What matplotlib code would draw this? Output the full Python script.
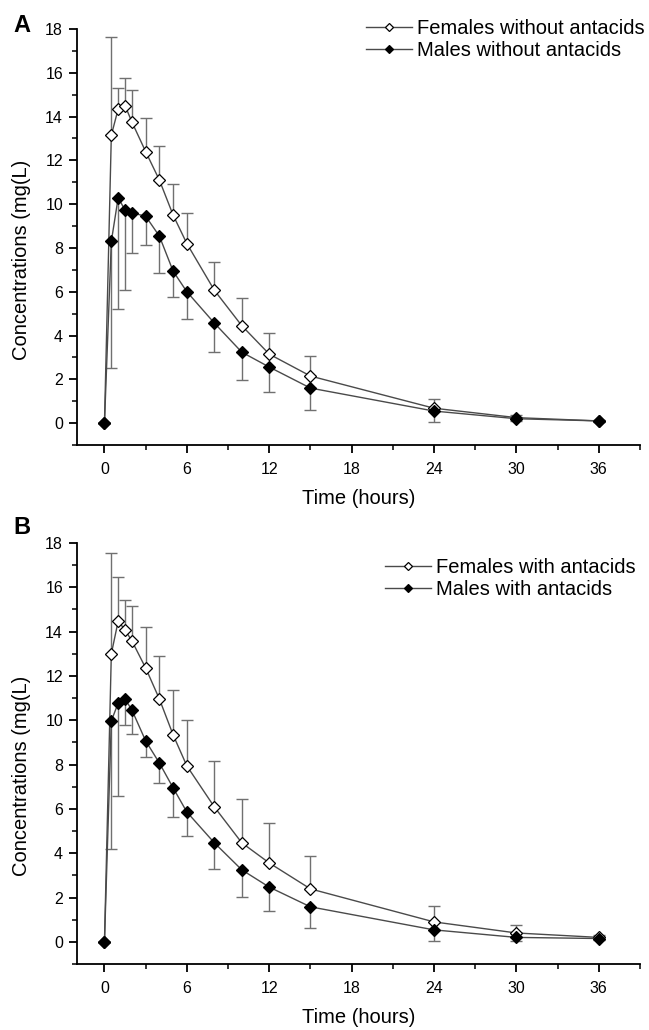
import numpy as np
import matplotlib
matplotlib.use('Agg')
from matplotlib import pyplot as plt
from matplotlib.ticker import MultipleLocator

plt.rcParams['font.family'] = ['Liberation Sans', 'DejaVu Sans']

# time points (hours)
t = [0, 0.5, 1, 1.5, 2, 3, 4, 5, 6, 8, 10, 12, 15, 24, 30, 36]

# panel A - without antacids
fem_a = [0, 13.15, 14.35, 14.5, 13.75, 12.4, 11.1, 9.5, 8.2, 6.07, 4.45, 3.15, 2.15, 0.68, 0.25, 0.1]
fem_a_err = [0, 4.5, 0.95, 1.25, 1.45, 1.55, 1.55, 1.4, 1.4, 1.3, 1.25, 0.95, 0.9, 0.4, 0.1, 0.05]
male_a = [0, 8.3, 10.3, 9.72, 9.6, 9.45, 8.54, 6.94, 6.0, 4.57, 3.24, 2.56, 1.6, 0.55, 0.2, 0.1]
male_a_err = [0, 5.8, 5.1, 3.65, 1.85, 1.3, 1.7, 1.2, 1.25, 1.33, 1.25, 1.15, 1.0, 0.5, 0.1, 0.05]

# panel B - with antacids
fem_b = [0, 13.0, 14.48, 14.07, 13.58, 12.36, 10.96, 9.34, 7.94, 6.09, 4.47, 3.56, 2.39, 0.9, 0.4, 0.2]
fem_b_err = [0, 4.55, 1.99, 1.36, 1.58, 1.84, 1.94, 2.03, 2.06, 2.07, 1.98, 1.81, 1.49, 0.7, 0.37, 0.12]
male_b = [0, 9.97, 10.78, 10.96, 10.46, 9.07, 8.07, 6.95, 5.86, 4.47, 3.25, 2.47, 1.58, 0.54, 0.2, 0.15]
male_b_err = [0, 5.77, 4.22, 1.16, 1.09, 0.71, 0.91, 1.31, 1.08, 1.17, 1.22, 1.07, 0.95, 0.49, 0.15, 0.05]

labels_a = ['Females without antacids', 'Males without antacids']
labels_b = ['Females with antacids', 'Males with antacids']

fig = plt.figure(figsize=(6.49, 10.30), dpi=100)
W, H = 649.0, 1030.0


def panel(rect, fem, fem_err, male, male_err, labels, letter, letter_y, leg_xy):
    l, tp, r, b = rect
    ax = fig.add_axes([l / W, 1 - b / H, (r - l) / W, (b - tp) / H])
    zeros = np.zeros(len(t))
    # error bars: females upward only, males downward only
    ax.errorbar(t, fem, yerr=[zeros, fem_err], fmt='none', ecolor='#707070',
                elinewidth=1.0, capsize=4, capthick=1.0, zorder=2)
    ax.errorbar(t, male, yerr=[male_err, zeros], fmt='none', ecolor='#707070',
                elinewidth=1.0, capsize=4, capthick=1.0, zorder=2)
    ax.plot(t, fem, color='#4a4a4a', lw=1.0, marker='D', ms=6.5, mfc='white',
            mec='black', mew=0.9, label=labels[0], zorder=3)
    ax.plot(t, male, color='#4a4a4a', lw=1.0, marker='D', ms=6.5, mfc='black',
            mec='black', mew=0.9, label=labels[1], zorder=4)
    ax.set_xlim(-2, 39)
    ax.set_ylim(-1, 18)
    ax.xaxis.set_major_locator(MultipleLocator(6))
    ax.xaxis.set_minor_locator(MultipleLocator(3))
    ax.yaxis.set_major_locator(MultipleLocator(2))
    ax.yaxis.set_minor_locator(MultipleLocator(1))
    ax.spines['top'].set_visible(False)
    ax.spines['right'].set_visible(False)
    for s in ('left', 'bottom'):
        ax.spines[s].set_linewidth(1.3)
    ax.tick_params(which='major', direction='out', length=6, width=1.3,
                   labelsize=11.5, pad=4)
    ax.tick_params(which='minor', direction='out', length=3.5, width=1.1)
    ax.tick_params(axis='x', which='major', pad=6)
    ax.set_xlabel('Time (hours)', fontsize=14.5)
    ax.set_ylabel('Concentrations (mg(L)', fontsize=14.5)
    ax.xaxis.set_label_coords(0.5, -44.0 / (b - tp))
    ax.yaxis.set_label_coords((31.0 - l) / (r - l), 0.446)
    ax.legend(loc='upper left', bbox_to_anchor=(leg_xy[0] / W, 1 - leg_xy[1] / H),
              bbox_transform=fig.transFigure, frameon=False, borderpad=0,
              borderaxespad=0, fontsize=14.5, handlelength=2.3,
              handletextpad=0.25, labelspacing=0.15, markerscale=0.65)
    fig.text(22 / W, 1 - letter_y / H, letter, fontsize=17, fontweight='bold',
             va='center', ha='center')
    return ax


panel((77, 29, 640, 445), fem_a, fem_a_err, male_a, male_a_err, labels_a,
      'A', 26, (366, 19))
panel((77, 543, 640, 964), fem_b, fem_b_err, male_b, male_b_err, labels_b,
      'B', 527, (385, 558))

fig.savefig('out.png', dpi=100)
